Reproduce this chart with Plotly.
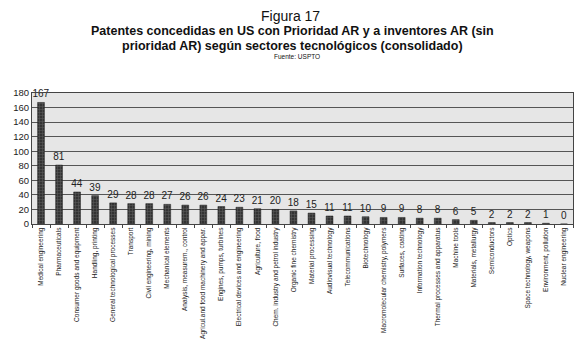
import plotly.graph_objects as go

categories = [
    "Medical engineering", "Pharmaceuticals", "Consumer goods and equipment",
    "Handling, printing", "General technological processes", "Transport",
    "Civil engineering, mining", "Mechanical elements", "Analysis, measurem., control",
    "Agricul.and food machinery and appar.", "Engines, pumps, turbines",
    "Electrical devices and engineering", "Agriculture, food",
    "Chem. industry and petrol industry", "Organic fine chemistry",
    "Material processing", "Audiovisual technology", "Telecommunications",
    "Biotechnology", "Macromolecular chemistry, polymers", "Surfaces, coating",
    "Information technology", "Thermal processes and apparatus", "Machine tools",
    "Materials, metallurgy", "Semiconductors", "Optics",
    "Space technology, weapons", "Environment, pollution", "Nuclear engineering",
]
values = [167, 81, 44, 39, 29, 28, 28, 27, 26, 26, 24, 23, 21, 20, 18,
          15, 11, 11, 10, 9, 9, 8, 8, 6, 5, 2, 2, 2, 1, 0]
y_ticks = [0, 20, 40, 60, 80, 100, 120, 140, 160, 180]

FONT = "Liberation Sans, Arial, sans-serif"

fig = go.Figure(go.Bar(
    x=categories, y=values,
    text=[str(v) for v in values], textposition="outside",
    constraintext="none",
    textfont=dict(size=10, color="#222", family=FONT),
    cliponaxis=False,
    marker=dict(color="#3a3a3a", line=dict(color="#222", width=0.5),
                pattern=dict(shape="+", fgcolor="#8a8a8a", bgcolor="#333",
                             size=3, solidity=0.3)),
))

def ann(text, x, y, size):
    return dict(text=text, xref="paper", yref="paper", x=x, y=y,
                xanchor="center", yanchor="middle", showarrow=False,
                font=dict(size=size, family=FONT, color="#111"))

fig.update_layout(
    width=586, height=356,
    margin=dict(l=24, r=21, t=85, b=140, autoexpand=False),
    paper_bgcolor="white", plot_bgcolor="#e6e6e6",
    bargap=0.62, showlegend=False,
    font=dict(family=FONT, color="#111"),
    xaxis=dict(tickangle=-90, tickfont=dict(size=6.5, family=FONT, color="#222"),
               showline=True, linecolor="#444", mirror=True, ticks="outside",
               tickson="boundaries", ticklen=3, tickcolor="#444",
               showgrid=False, automargin=False),
    yaxis=dict(range=[0, 180], tickvals=y_ticks, tickfont=dict(size=9.5, family=FONT, color="#222"),
               showline=True, linecolor="#444", mirror=True, ticks="",
               showgrid=True, gridcolor="#555", gridwidth=1, zeroline=False,
               automargin=False),
    annotations=[
        ann("Figura 17", 0.477, 1.59, 14),
        ann("<b>Patentes concedidas en US con Prioridad AR y a inventores AR (sin</b>", 0.482, 1.475, 12.5),
        ann("<b>prioridad AR) según sectores tecnológicos (consolidado)</b>", 0.482, 1.355, 12.5),
        ann("Fuente: USPTO", 0.49, 1.275, 6.5),
    ],
)

fig.write_html("out.html")
